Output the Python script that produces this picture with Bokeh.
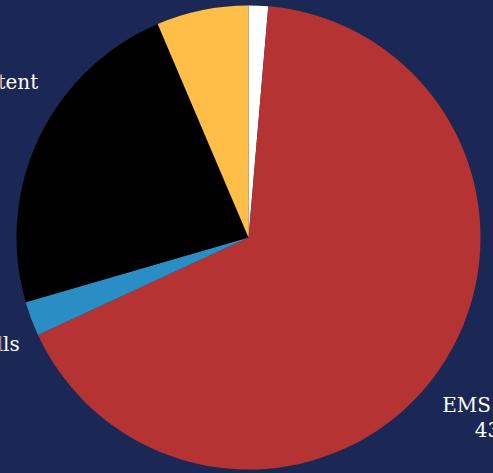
import numpy as np
from bokeh.plotting import figure
from bokeh.models import ColumnDataSource, Range1d
from bokeh.embed import file_html
from bokeh.resources import INLINE
from bokeh.core.properties import value

# ---- data (clockwise from 12 o'clock) ----
categories = ["Fire Calls", "EMS Calls", "Service Calls", "Good Intent", "False Alarms"]
counts = [880, 43260, 1560, 14970, 4150]
colors = ["#ffffff", "#b53333", "#2a8ec4", "#000000", "#febe48"]

# ---- layout / style ----
W, H = 493, 473
BG = "#1b2856"
cx, cy, r = 248, H - 237, 232
label_dist = 20
# per-label nudges in screen px (dx right, dy down)
label_dx = [0, 40, -59, -43, 0]
label_dy = [-60, 23, 18, -47, -60]
line_h = 25

vals = np.array(counts, dtype=float)
frac = vals / vals.sum()
cum = np.cumsum(frac)
start = np.pi / 2 - 2 * np.pi * (cum - frac)
end = np.pi / 2 - 2 * np.pi * cum
mid = np.pi / 2 - 2 * np.pi * (cum - frac / 2)

src = ColumnDataSource(dict(cat=categories, start=start, end=end, color=colors))

p = figure(width=W, height=H, x_range=Range1d(0, W), y_range=Range1d(0, H),
           output_backend="svg", toolbar_location=None, min_border=0,
           background_fill_color=BG, border_fill_color=BG, outline_line_color=None)
p.axis.visible = False
p.grid.visible = False

p.wedge(x=cx, y=cy, radius=r, start_angle="start", end_angle="end",
        direction="clock", fill_color="color", line_color=None, source=src)

ax = cx + (r + label_dist) * np.cos(mid) + np.array(label_dx)
ay = cy + (r + label_dist) * np.sin(mid) - np.array(label_dy)
val_txt = [f"{v / 1000:.0f}K" for v in counts]

lsrc = ColumnDataSource(dict(x=ax, y=ay, y2=ay - line_h, name=categories, val=val_txt))
common = dict(text_font=value("DejaVu Serif"), text_font_size="20px",
              text_color="#ffffff", text_align="center", text_baseline="alphabetic",
              source=lsrc)
p.text(x="x", y="y", text="name", **common)
p.text(x="x", y="y2", text="val", **common)

html = file_html(p, INLINE, title="Calls")
html = html.replace("</head>", "<style>html,body{margin:0;padding:0;background:%s;overflow:hidden;}</style></head>" % BG, 1)
open("out.html", "w").write(html)
